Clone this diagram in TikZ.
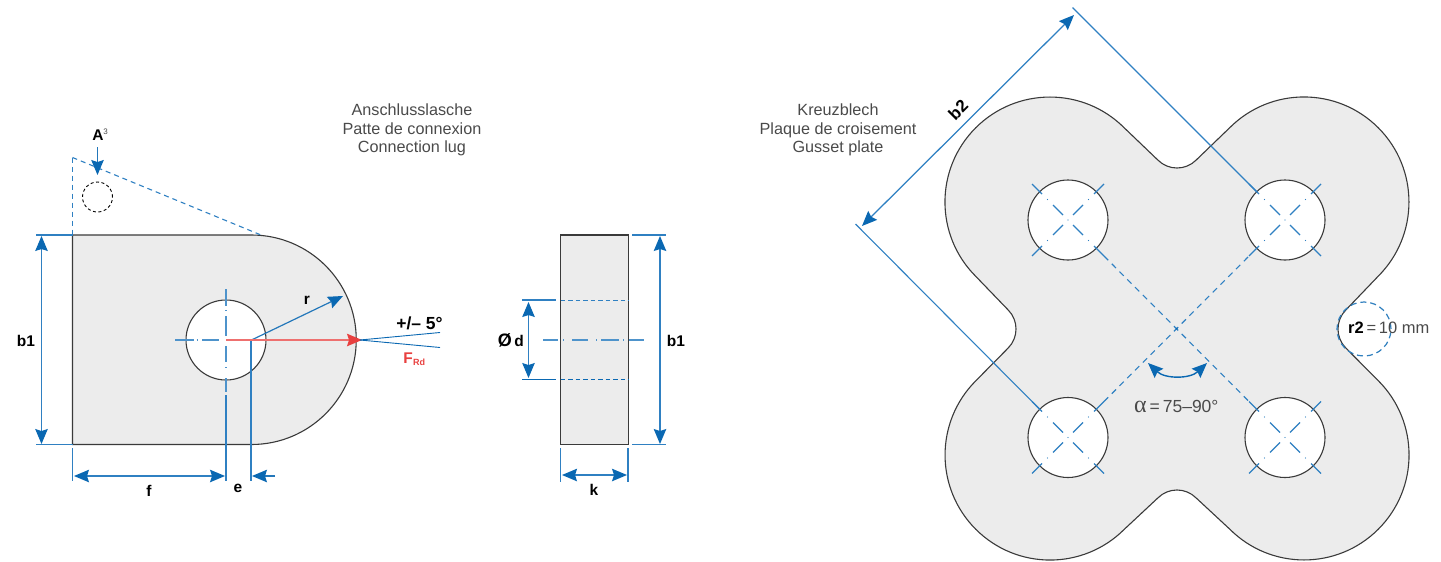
\documentclass[tikz,border=0pt]{standalone}
\usepackage{fontspec}
\setmainfont{Liberation Sans}
\usetikzlibrary{arrows.meta,calc}
\definecolor{lineb}{HTML}{2F80C2}
\definecolor{tipb}{HTML}{0A68B2}
\definecolor{darkl}{HTML}{3A3A3A}
\definecolor{greyf}{HTML}{ECECEC}
\definecolor{capt}{HTML}{4A4A4A}
\definecolor{redf}{HTML}{E8403F}
\tikzset{
  dimtip/.tip={Stealth[length=15pt,width=12.5pt,inset=2pt,color=tipb]},
  dimline/.style={draw=lineb,line width=1.1pt},
  dimarrow/.style={draw=lineb,line width=1.25pt,{dimtip}-{dimtip}},
  oneway/.style={draw=tipb!90!white,line width=1.2pt,-{dimtip}},
  outline/.style={draw=darkl,line width=1.1pt},
  plate/.style={outline,fill=greyf},
  holeshape/.style={outline,fill=white},
  dashb/.style={draw=lineb,line width=1.1pt,dash pattern=on 5pt off 4pt},
  centre/.style={draw=lineb!85!white,line width=1.2pt},
  lab/.style={inner sep=0pt,font=\fontsize{15.5}{18}\selectfont\bfseries},
  captionlab/.style={inner sep=0pt,align=center,text=capt,font=\fontsize{16.2}{18.5}\selectfont},
}
\newcommand{\holecross}[1]{%
  \foreach \dx/\dy in {1/1,1/-1,-1/1,-1/-1}{
    \draw[dimline] ($(#1)+(26*\dx,26*\dy)$) -- ($(#1)+(36*\dx,36*\dy)$);
    \draw[dimline] ($(#1)+(5*\dx,5*\dy)$) -- ($(#1)+(15*\dx,15*\dy)$);
    \fill[lineb] ($(#1)+(20.5*\dx,20.5*\dy)$) circle (0.6pt);
  }
  \fill[lineb] (#1) circle (0.7pt);
}
\begin{document}
\begin{tikzpicture}[x=1pt,y=-1pt]
\path[use as bounding box] (0,0) rectangle (1441,562);

% ---------- connection lug ----------
\coordinate (lugTL) at (72.5,235);
\coordinate (lugBL) at (72.5,444.5);
\coordinate (lugC) at (251.5,340);
\coordinate (holeC) at (226,340);
\coordinate (apex) at (72.5,157.5);
\coordinate (tang) at (261,235);
\path[plate] (lugTL) -- (251.5,235) arc[start angle=90,end angle=-90,radius=104.75pt] -- (lugBL) -- cycle;
\node[holeshape,circle,minimum size=80pt,inner sep=0pt] (hole) at (holeC) {};
\draw[dashb] (apex) -- (lugTL);
\draw[dashb] (apex) -- (tang);
\draw[draw=black,line width=0.9pt,dash pattern=on 3pt off 2.5pt] (97.5,197) circle (15pt);
\coordinate (Atail) at (97.5,147);
\coordinate (Atip) at (97.5,175);
\draw[oneway] (Atail) -- (Atip);
\node[lab] (Alab) at (98,135) {A};
\node[inner sep=0pt,text=capt,font=\fontsize{8}{9}\selectfont] (Asup) at (105.5,131.5) {3};

% extension and dimension lines, lug
\coordinate (bTa) at (36,235); \coordinate (bBa) at (36,444.5);
\draw[dimline] (bTa) -- (lugTL);
\draw[dimline] (bBa) -- (lugBL);
\coordinate (b1a) at (41.5,236); \coordinate (b1b) at (41.5,444);
\draw[dimarrow] (b1a) -- (b1b);
\node[lab] (b1l) at (26,341) {b1};
\coordinate (fe1) at (72.5,448); \coordinate (fe2) at (72.5,481);
\draw[dimline] (fe1) -- (fe2);
\coordinate (f1) at (74,476); \coordinate (f2) at (225,476);
\draw[dimarrow] (f1) -- (f2);
\node[lab] (fl) at (149,491) {f};
\coordinate (ee1) at (226,395); \coordinate (ee2) at (226,481);
\draw[dimline] (ee1) -- (ee2);
\coordinate (ef1) at (251,340); \coordinate (ef2) at (251,481);
\draw[dimline] (ef1) -- (ef2);
\coordinate (e1) at (275,476); \coordinate (e2) at (252,476);
\draw[oneway] (e1) -- (e2);
\node[lab] (el) at (238,488) {e};
% centre lines
\coordinate (cv1) at (226,289); \coordinate (cv2) at (226,392);
\draw[centre,dash pattern=on 17pt off 4pt on 1pt off 5pt on 20pt off 10pt on 16pt off 5pt on 1pt off 10pt on 14pt off 20pt] (cv1) -- (cv2);
\coordinate (ch1) at (175,340); \coordinate (ch2) at (219,340);
\draw[centre,dash pattern=on 19pt off 2.5pt on 1pt off 4.5pt on 30pt off 5pt] (ch1) -- (ch2);
% radius
\coordinate (rtip) at (343,296);
\draw[oneway] (lugC) -- (rtip);
\node[lab] (rl) at (307,300) {r};
% force
\coordinate (fstart) at (226,340); \coordinate (ftip) at (362,340);
\draw[draw=redf!75!white,line width=1.2pt,-{Stealth[length=15pt,width=12.5pt,inset=2pt,color=redf]}] (fstart) -- (ftip);
\coordinate (an) at (360,340);
\coordinate (an1) at (440,332.5); \coordinate (an2) at (440,347.5);
\draw[draw=tipb,line width=0.9pt] (an) -- (an1);
\draw[draw=tipb,line width=0.9pt] (an) -- (an2);
\node[lab,font=\fontsize{17.5}{18}\selectfont\bfseries] (angl) at (419.5,323) {+/– 5°};
\node[inner sep=0pt,text=redf,font=\fontsize{15.5}{18}\selectfont\bfseries] (frd) at (408,358.5) {F};
\node[inner sep=0pt,text=redf,font=\fontsize{9}{10}\selectfont\bfseries,anchor=west] (frd2) at (413,362.5) {Rd};
\node[captionlab] (cap1) at (412,130) {Anschlusslasche\\Patte de connexion\\Connection lug};

% ---------- side view ----------
\coordinate (sTL) at (560.5,235); \coordinate (sBR) at (628.5,444.5);
\draw[plate] (sTL) rectangle (sBR);
\coordinate (s1) at (522,300); \coordinate (s2) at (556,300); \coordinate (s3) at (560.5,300); \coordinate (s4) at (628.5,300);
\draw[dimline] (s1) -- (s2);
\draw[draw=lineb,line width=1pt,dash pattern=on 4.5pt off 3pt] (s3) -- (s4);
\coordinate (s5) at (522,379.5); \coordinate (s6) at (556,379.5); \coordinate (s7) at (560.5,379.5); \coordinate (s8) at (628.5,379.5);
\draw[draw=tipb,line width=1pt] (s5) -- (s6);
\draw[draw=tipb,line width=1pt,dash pattern=on 4.5pt off 3pt] (s7) -- (s8);
\coordinate (d1) at (528.5,302); \coordinate (d2) at (528.5,378);
\draw[dimarrow] (d1) -- (d2);
\node[lab,anchor=east] (dl) at (524,340) {{\fontsize{18}{18}\selectfont Ø}\,d};
\coordinate (sc1) at (543,340); \coordinate (sc2) at (646,340);
\draw[centre,dash pattern=on 15pt off 5pt on 1pt off 8pt on 16pt off 8pt on 1pt off 4pt on 18pt off 4pt on 1pt off 5pt on 15pt off 9pt] (sc1) -- (sc2);
\coordinate (t1) at (632,235); \coordinate (t2) at (666,235); \coordinate (t3) at (632,444.5); \coordinate (t4) at (666,444.5);
\draw[dimline] (t1) -- (t2);
\draw[dimline] (t3) -- (t4);
\coordinate (h1) at (660,236); \coordinate (h2) at (660,444);
\draw[dimarrow] (h1) -- (h2);
\node[lab] (b1r) at (676,341) {b1};
\coordinate (k1) at (560.5,448); \coordinate (k2) at (560.5,482); \coordinate (k3) at (628,448); \coordinate (k4) at (628,482);
\draw[dimline] (k1) -- (k2);
\draw[dimline] (k3) -- (k4);
\coordinate (ka) at (562,475); \coordinate (kb) at (627,475);
\draw[dimarrow] (ka) -- (kb);
\node[lab] (kl) at (594,490) {k};

% ---------- gusset plate ----------
\path[plate] (1124.2,127.8) arc[start angle=45,end angle=225,radius=105pt]
  -- (1008.1,309.9) arc[start angle=45,end angle=-45,radius=27pt]
  -- (975.8,380.8) arc[start angle=135,end angle=315,radius=105pt]
  -- (1157.9,497.9) arc[start angle=135,end angle=45,radius=27pt]
  -- (1229.8,529.2) arc[start angle=225,end angle=405,radius=105pt]
  -- (1345.9,348.1) arc[start angle=225,end angle=135,radius=27pt]
  -- (1378.2,276.2) arc[start angle=-45,end angle=135,radius=105pt]
  -- (1196.1,160.1) arc[start angle=-45,end angle=-135,radius=27pt]
  -- cycle;
\coordinate (hTL) at (1068,220);
\coordinate (hTR) at (1285,220);
\coordinate (hBL) at (1068,437.5);
\coordinate (hBR) at (1285,437.5);
\coordinate (mid) at (1176.7,328.7);
\foreach \h in {hTL,hTR,hBL,hBR}{
  \node[holeshape,circle,minimum size=80pt,inner sep=0pt] (n\h) at (\h) {};
}
% long diagonals
\coordinate (dA1) at ($(hTL)+(36,36)$); \coordinate (dA2) at ($(hBR)+(-36,-36)$);
\coordinate (dB1) at ($(hBL)+(36,-36)$); \coordinate (dB2) at ($(hTR)+(-36,36)$);
\draw[dashb,dash pattern=on 6pt off 5pt] (dA1) -- (dA2);
\draw[dashb,dash pattern=on 6pt off 5pt] (dB1) -- (dB2);
\fill[tipb] (mid) circle (1pt);
\holecross{hTL}\holecross{hTR}\holecross{hBL}\holecross{hBR}
% b2 dimension
\coordinate (x1) at (1072.5,7.5); \coordinate (x2) at ($(hTR)+(-28,-28)$);
\coordinate (x3) at (855.5,224); \coordinate (x4) at ($(hBL)+(-28,-28)$);
\draw[dimline] (x1) -- (x2);
\draw[dimline] (x3) -- (x4);
\coordinate (ba) at (1074,15); \coordinate (bb) at (862,226);
\draw[dimarrow] (ba) -- (bb);
\node[lab,rotate=45,font=\fontsize{17}{18}\selectfont\bfseries] (b2l) at (958,110) {b2};
% alpha
\coordinate (al1) at (1148,363); \coordinate (al2) at (1207,363);
\draw[dimarrow,draw=tipb,line width=1.4pt] (al1) .. controls (1165,379) and (1190,379) .. (al2);
\node[inner sep=0pt,text=capt,anchor=west,font=\fontsize{17.5}{18}\selectfont] (allab) at (1134,407) {{\fontsize{24}{18}\selectfont\fontspec{Liberation Serif}α}\,=\,75–90°};
% r2
\draw[draw=tipb!85!white,line width=1.2pt,dash pattern=on 6pt off 4pt] (1364,329) circle (27pt);
\node[inner sep=0pt,anchor=west,text=capt,font=\fontsize{16.5}{18}\selectfont] (r2l) at (1348,328) {\textbf{\textcolor{black}{r2}}\,=\,10 mm};
\node[captionlab] (cap2) at (838,130) {Kreuzblech\\Plaque de croisement\\Gusset plate};
\end{tikzpicture}
\end{document}
